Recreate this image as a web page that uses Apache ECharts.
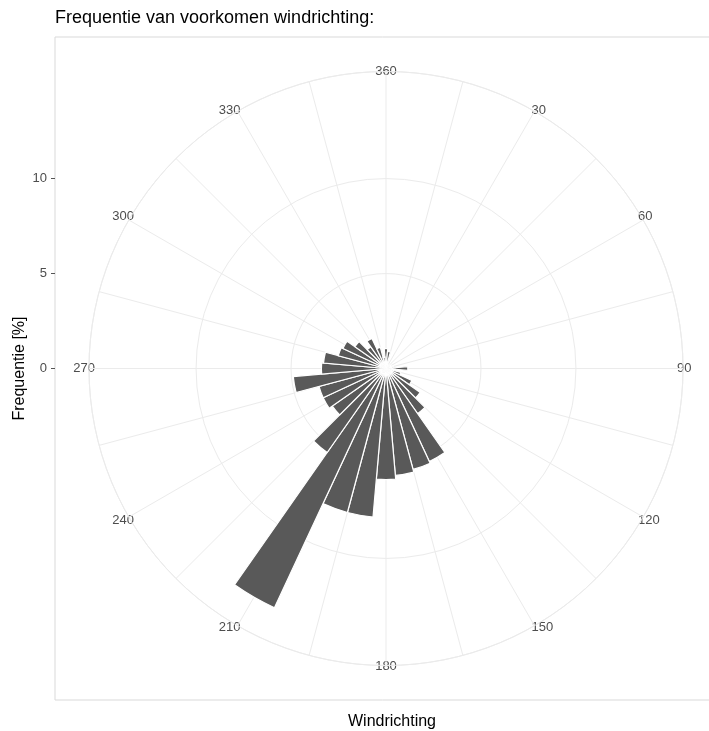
<!DOCTYPE html>
<html>
<head>
<meta charset="utf-8">
<script src="https://cdn.jsdelivr.net/npm/echarts@6/dist/echarts.min.js"></script>
<style>
html,body{margin:0;padding:0;background:#fff;}
#chart{width:709px;height:731px;}
</style>
</head>
<body>
<div id="chart"></div>
<script>
// Wind direction bins (degrees, bin centre)
const directions = [0,10,20,30,40,50,60,70,80,90,100,110,120,130,140,150,160,170,
                    180,190,200,210,220,230,240,250,260,270,280,290,300,310,320,330,340,350];
// Frequency of occurrence (%)
const frequency = [1.05,0.9,0.25,0.2,0.2,0.25,0.3,0.35,0.4,1.15,0.5,0.8,1.5,2.2,2.9,5.4,5.5,5.65,
                   5.85,7.85,7.85,13.9,5.4,3.45,3.65,3.65,4.9,3.4,3.3,2.6,2.5,2.0,1.4,1.75,1.15,0.6];
// Angular tick labels and radial tick labels
const angleLabels = [30,60,90,120,150,180,210,240,270,300,330,360];
const radialTicks = [0,5,10];

const maxData = Math.max(...frequency);
const rMax = maxData * 0.45 / 0.4;   // ggplot: data range -> 0.4, outer ring -> 0.45
const cx = 386, cy = 368.5, R = 297;
const pxPerUnit = R / rMax;
const panelTop = 37, panelBottom = 700;
const yTop = (cy - panelTop) / pxPerUnit;
const yBottom = (panelBottom - cy) / pxPerUnit;

const chart = echarts.init(document.getElementById('chart'), null, {renderer:'canvas'});
const fontFam = '"Liberation Sans", Arial, sans-serif';
const grid = '#ebebeb';

chart.setOption({
  animation: false,
  backgroundColor: '#ffffff',
  title: {
    text: 'Frequentie van voorkomen windrichting:',
    left: 50, top: 4,
    textStyle: {fontSize: 18, fontWeight: 'normal', color: '#000', fontFamily: fontFam}
  },
  grid: {
    left: 55, top: panelTop, right: -20, bottom: 731 - panelBottom,
    outerBoundsMode: 'none', containLabel: false,
    show: true, borderColor: '#d9d9d9', borderWidth: 1, backgroundColor: 'transparent'
  },
  xAxis: {
    type: 'value', min: 0, max: 1,
    axisLine: {show: false}, axisTick: {show: false}, axisLabel: {show: false}, splitLine: {show: false},
    name: 'Windrichting', nameLocation: 'middle', nameGap: 14,
    nameTextStyle: {fontSize: 16, color: '#000', fontFamily: fontFam, verticalAlign: 'top'}
  },
  yAxis: {
    type: 'value', min: -yBottom, max: yTop,
    axisLine: {show: false},
    splitLine: {show: false},
    axisTick: {show: true, length: 4, customValues: radialTicks, lineStyle: {color: '#555'}},
    axisLabel: {customValues: radialTicks, color: '#4d4d4d', fontSize: 13, margin: 8, fontFamily: fontFam},
    name: 'Frequentie [%]', nameLocation: 'middle', nameGap: 27, nameRotate: 90,
    nameMoveOverlap: false,
    nameTextStyle: {fontSize: 16, color: '#000', fontFamily: fontFam}
  },
  polar: [
    {center: [cx, cy], radius: R},
    {center: [cx, cy], radius: R}
  ],
  angleAxis: [
    {
      polarIndex: 0, type: 'value', min: 0, max: 360, interval: 15,
      startAngle: 90, clockwise: true,
      axisLine: {show: true, lineStyle: {color: grid, width: 1}},
      axisTick: {show: false},
      splitLine: {show: true, lineStyle: {color: grid, width: 1}},
      axisLabel: {
        margin: -6, color: '#4d4d4d', fontSize: 13, fontFamily: fontFam,
        formatter: function (v) {
          if (v === 0) return '360';
          if (v === 360) return '';
          return angleLabels.indexOf(v) >= 0 ? String(v) : '';
        }
      },
      z: 1
    },
    {
      polarIndex: 1, type: 'category', data: directions.map(String),
      startAngle: 95, clockwise: true, boundaryGap: true,
      axisLine: {show: false}, axisTick: {show: false}, axisLabel: {show: false}, splitLine: {show: false}
    }
  ],
  radiusAxis: [
    {
      polarIndex: 0, type: 'value', min: 0, max: rMax, interval: 5,
      axisLine: {show: false}, axisTick: {show: false}, axisLabel: {show: false},
      splitLine: {show: true, lineStyle: {color: [grid, grid, grid, 'rgba(0,0,0,0)', grid], width: 1}}
    },
    {
      polarIndex: 1, type: 'value', min: 0, max: rMax,
      axisLine: {show: false}, axisTick: {show: false}, axisLabel: {show: false}, splitLine: {show: false}
    }
  ],
  series: [{
    type: 'bar', coordinateSystem: 'polar', polarIndex: 1,
    data: frequency,
    barCategoryGap: '0%',
    itemStyle: {color: '#595959', borderColor: '#ffffff', borderWidth: 1.2},
    z: 5
  }]
});
</script>
</body>
</html>
